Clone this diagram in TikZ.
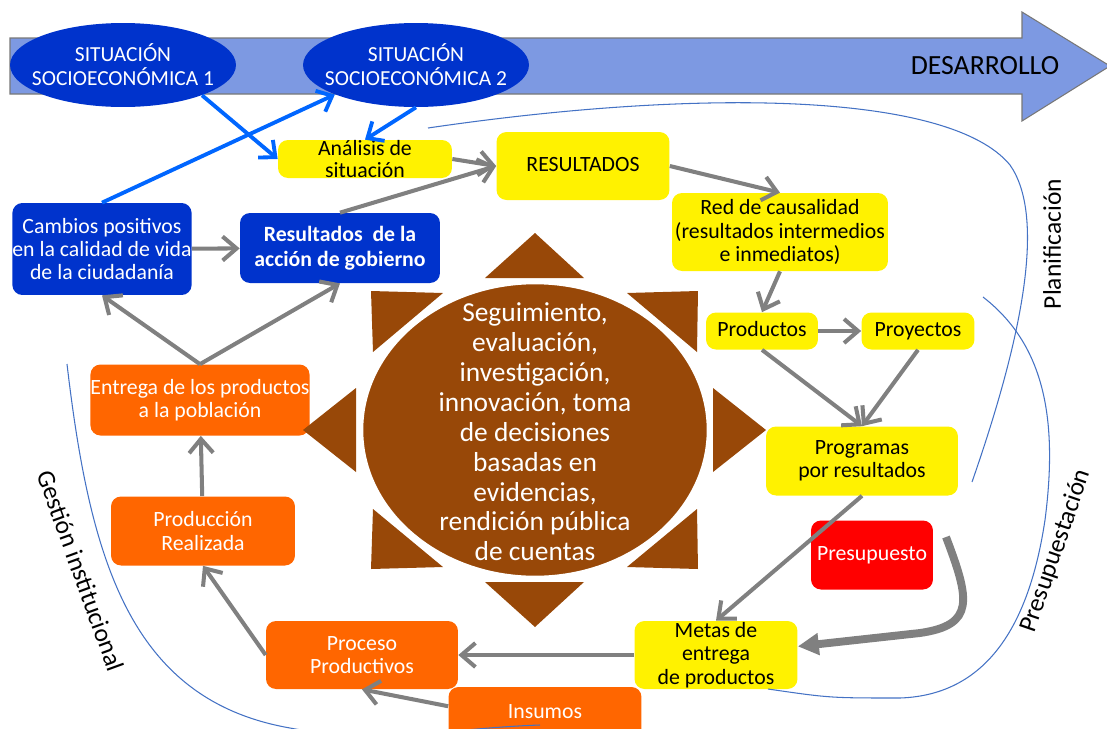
\documentclass[tikz,border=0pt]{standalone}
\usepackage{fontspec}
\setmainfont{Carlito}
\usetikzlibrary{shapes,arrows,arrows.meta}
\definecolor{bandblue}{RGB}{125,153,226}
\definecolor{bandedge}{RGB}{120,120,120}
\definecolor{ovalblue}{RGB}{0,51,204}
\definecolor{linkblue}{RGB}{0,102,255}
\definecolor{thinblue}{RGB}{68,114,196}
\definecolor{sunbrown}{RGB}{152,72,8}
\definecolor{boxorange}{RGB}{255,102,0}
\definecolor{arrowgray}{RGB}{128,128,128}
\tikzset{
  every node/.style={font=\fontsize{12.4}{13.2}\selectfont, align=center, inner sep=0pt},
  plainbox/.style={rectangle, rounded corners=0.2cm},
  oneline/.style={text height=1.7ex, text depth=0.4ex},
  yellowbox/.style={plainbox, fill=yellow, text=black},
  bluebox/.style={plainbox, fill=ovalblue, text=white},
  orangebox/.style={plainbox, fill=boxorange, text=white},
  redbox/.style={plainbox, fill=red, text=white},
  situation/.style={ellipse, fill=ovalblue, minimum width=4.52cm, minimum height=1.68cm},
  ovaltext/.style={text=white, font=\fontsize{12.2}{13.6}\selectfont},
  sunoval/.style={ellipse, fill=sunbrown, draw=white, line width=2pt, minimum width=6.94cm, minimum height=5.9cm},
  suntext/.style={text=white, font=\fontsize{15.6}{17}\selectfont},
  sidelabel/.style={font=\fontsize{14.5}{16}\selectfont}
}

\begin{document}
\begin{tikzpicture}[x=0.02cm, y=-0.02cm]
  \useasboundingbox (0,0) rectangle (1107,728);
  \filldraw[fill=bandblue, draw=bandedge, line width=0.6pt]
    (10,38) -- (1022,38) -- (1022,12) -- (1110,66) -- (1022,121) -- (1022,94) -- (10,94) -- cycle;
  \node[font=\fontsize{15.8}{18}\selectfont] (desarrollo) at (985,66) {DESARROLLO};

  \node[situation] (sit1) at (123,65) {};
  \node[ovaltext] (sit1text) at (sit1) {SITUACIÓN\\SOCIOECONÓMICA 1};
  \node[situation] (sit2) at (416,65) {};
  \node[ovaltext] (sit2text) at (sit2) {SITUACIÓN\\SOCIOECONÓMICA 2};

  \node[yellowbox, minimum width=3.48cm, minimum height=0.76cm, font=\fontsize{12.4}{12.5}\selectfont] (analisis) at (365,159) {Análisis de\\situación};
  \node[yellowbox, oneline, minimum width=3.46cm, minimum height=1.36cm] (resultados) at (583,166) {RESULTADOS};
  \node[yellowbox, minimum width=4.32cm, minimum height=1.56cm] (red) at (780,232) {Red de causalidad\\(resultados intermedios\\e inmediatos)};
  \node[bluebox, minimum width=3.5cm, minimum height=1.84cm] (cambios) at (102,249) {Cambios positivos\\en la calidad de vida\\de la ciudadanía};
  \node[bluebox, minimum width=4cm, minimum height=1.4cm, font=\bfseries\fontsize{12.4}{14}\selectfont] (accion) at (340,248) {Resultados~ de la\\acción de gobierno};
  \node[yellowbox, oneline, minimum width=2.24cm, minimum height=0.74cm] (productos) at (762,331) {Productos};
  \node[yellowbox, oneline, minimum width=2.26cm, minimum height=0.74cm] (proyectos) at (918,331) {Proyectos};
  \node[yellowbox, minimum width=3.84cm, minimum height=1.38cm] (programas) at (862,461) {Programas\\por resultados};
  \node[redbox, oneline, minimum width=2.44cm, minimum height=1.38cm] (presupuesto) at (872,555) {Presupuesto};
  \node[yellowbox, minimum width=3.26cm, minimum height=1.36cm] (metas) at (716,655) {Metas de\\entrega\\de productos};
  \node[orangebox, minimum width=4.38cm, minimum height=1.42cm] (entrega) at (200,400) {Entrega de los productos\\a la población};
  \node[orangebox, minimum width=3.68cm, minimum height=1.38cm] (produccion) at (203,531) {Producción\\Realizada};
  \node[orangebox, minimum width=3.84cm, minimum height=1.36cm] (proceso) at (362,655) {Proceso\\Productivos};
  \node[orangebox, oneline, minimum width=3.86cm, minimum height=1.04cm] (insumos) at (545,713) {Insumos};

  \fill[sunbrown] (485,278) -- (535,233) -- (584,278) -- cycle;
  \fill[sunbrown] (485,582) -- (535,627) -- (584,582) -- cycle;
  \fill[sunbrown] (356,388) -- (303,430) -- (356,472) -- cycle;
  \fill[sunbrown] (713,388) -- (766,430) -- (713,472) -- cycle;
  \fill[sunbrown] (371,291) -- (443,293) -- (373,352) -- cycle;
  \fill[sunbrown] (698,291) -- (627,293) -- (697,352) -- cycle;
  \fill[sunbrown] (371,569) -- (443,567) -- (373,509) -- cycle;
  \fill[sunbrown] (698,569) -- (627,567) -- (697,509) -- cycle;
  \node[sunoval] (sun) at (535,430) {};
  \node[suntext] (suntext) at (535,432) {Seguimiento,\\evaluación,\\investigación,\\innovación, toma\\de decisiones\\basadas en\\evidencias,\\rendición pública\\de cuentas};

  \node[sidelabel, rotate=90] (planif) at (1052,244) {Planificación};
  \node[sidelabel, rotate=71] (presup) at (1056,551) {Presupuestación};
  \node[sidelabel, rotate=-70] (gestion) at (81,571) {Gestión institucional};

  \tikzstyle{link}=[draw=linkblue, line width=2.2pt, -{Straight Barb[length=0.26cm,width=0.46cm]}]
  \draw[link] (sit1.-21) -- (analisis.west);
  \draw[link] (cambios.north) -- (sit2.200);
  \draw[link] (sit2.south) -- (analisis.north);

  \tikzstyle{flow}=[draw=arrowgray, line width=2.3pt, -{Straight Barb[length=0.28cm,width=0.48cm]}]
  \draw[flow] (analisis.east) -- (resultados.west);
  \draw[flow] (accion.north) -- (resultados.west);
  \draw[flow] (resultados.east) -- (red.north);
  \draw[flow] (red.south) -- (productos.north);
  \draw[flow] (productos) -- (proyectos);
  \draw[flow] (productos.south) -- (programas.north);
  \draw[flow] (proyectos.south) -- (programas.north);
  \draw[flow] (programas.south) -- (metas.north);
  \draw[flow] (metas) -- (proceso);
  \draw[flow] (insumos.176) -- (proceso.south);
  \draw[flow] (proceso.west) -- (produccion.south);
  \draw[flow] (produccion) -- (entrega);
  \draw[flow] (entrega.north) -- (cambios.south);
  \draw[flow] (entrega.north) -- (accion.south);
  \draw[flow] (cambios) -- (accion);

  \tikzstyle{budget}=[draw=arrowgray, line width=4.5pt, -{Triangle[length=0.42cm,width=0.42cm]}]
  \draw[budget] (946,537) .. controls (970,600) and (975,625) .. (920,633) -- (metas.6);

  \tikzstyle{border}=[draw=thinblue, line width=0.6pt]
  \draw[border] (428,128) .. controls (700,88) and (950,92) .. (1010,165)
    .. controls (1045,215) and (1025,330) .. (972,482);
  \draw[border] (983,297) .. controls (1045,345) and (1058,420) .. (1045,520)
    .. controls (1030,620) and (990,695) .. (900,698) .. controls (830,698) .. (768,689);
  \draw[border] (67,364) .. controls (90,560) and (130,700) .. (290,728)
    .. controls (380,745) and (450,728) .. (540,725);
\end{tikzpicture}
\end{document}
